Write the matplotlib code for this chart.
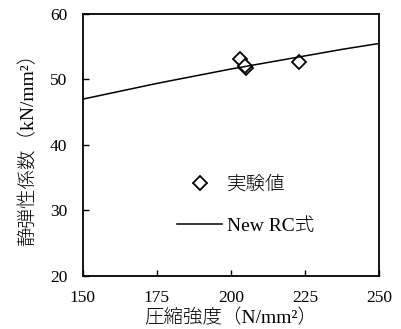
import matplotlib
matplotlib.use('Agg')
from matplotlib import pyplot as plt

# data
fc_test = [203.1, 205.0, 204.8, 223.0]
e_test = [53.1, 51.7, 52.1, 52.7]

fc_line = [150, 162.5, 175, 187.5, 200, 212.5, 225, 237.5, 250]
e_line = [47.0, 48.2, 49.4, 50.5, 51.6, 52.6, 53.6, 54.6, 55.5]

xticks = [150, 175, 200, 225, 250]
yticks = [20, 30, 40, 50, 60]

fams = ['Liberation Serif', 'Noto Sans CJK JP']
plt.rcParams['font.family'] = fams

fig = plt.figure(figsize=(4.01, 3.29), dpi=100)
ax = fig.add_axes([82.7 / 401, 1 - 276 / 329, (379 - 82.7) / 401, (276 - 14) / 329])

ax.plot(fc_test, e_test, linestyle='none', marker='D', markersize=7,
        markerfacecolor='white', markeredgecolor='black', markeredgewidth=1.3,
        label='実験値')
ax.plot(fc_line, e_line, color='black', linewidth=1.1, label='New RC式')

ax.set_xlim(150, 250)
ax.set_ylim(20, 60)
ax.set_xticks(xticks)
ax.set_yticks(yticks)
ax.tick_params(direction='in', length=4, width=1, labelsize=12.5,
               top=False, right=False)
ax.tick_params(axis='x', pad=10)
ax.tick_params(axis='y', pad=11)
for s in ax.spines.values():
    s.set_linewidth(1.3)

ax.set_xlabel('圧縮強度（N/mm²）', fontsize=14, labelpad=2, fontweight='light')
ax.set_ylabel('静弾性係数（kN/mm²）', fontsize=14, labelpad=9, fontweight='light')

leg = ax.legend(loc='center', bbox_to_anchor=(0.55, 0.27), frameon=False,
                fontsize=14, handlelength=2.3, handletextpad=0.25,
                labelspacing=1.2, borderaxespad=0)
for t in leg.get_texts():
    t.set_fontweight('light')

fig.savefig('out.png', dpi=100)
